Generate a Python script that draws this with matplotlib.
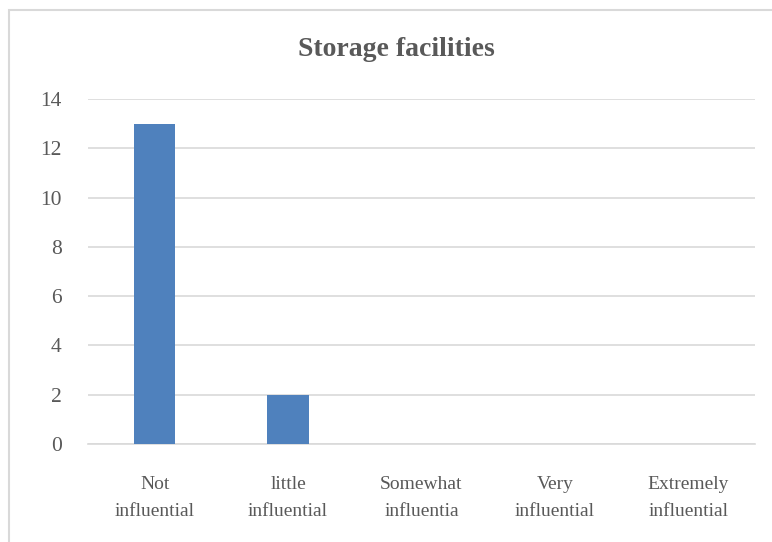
import matplotlib
matplotlib.use("Agg")
import matplotlib.pyplot as plt
from matplotlib.patches import Rectangle

categories = ["Not\ninfluential", "little\ninfluential", "Somewhat\ninfluentia", "Very\ninfluential", "Extremely\ninfluential"]
values = [13, 2, 0, 0, 0]
yticks = [0, 2, 4, 6, 8, 10, 12, 14]
title = "Storage facilities"

text_color = "#595959"
grid_color = "#D9D9D9"
bar_color = "#4F81BD"
font = "Liberation Serif"

fig = plt.figure(figsize=(7.72, 5.42), dpi=100)
fig.patch.set_facecolor("white")
fig.patches.append(Rectangle((9/772, -0.2), 1.2, 1.2 - 10/542,
                             transform=fig.transFigure, fill=False,
                             edgecolor=grid_color, linewidth=1.5))

ax = fig.add_axes([88/772, 1 - 444/542, (755 - 88)/772, (444 - 99)/542])
x = range(len(categories))
ax.bar(x, values, width=0.31, color=bar_color, zorder=3)
ax.set_xlim(-0.5, len(categories) - 0.5)
ax.set_ylim(0, 14)
ax.set_yticks(yticks)
ax.set_yticklabels([str(v) for v in yticks], fontsize=15.5, color=text_color, family=font)
ax.set_xticks(list(x))
ax.set_xticklabels(categories, fontsize=14, color=text_color, family=font, linespacing=1.75)
ax.tick_params(axis="y", length=0, pad=19)
ax.tick_params(axis="x", length=0, pad=23)
ax.yaxis.grid(True, color=grid_color, linewidth=1.2, zorder=0)
ax.set_axisbelow(True)
for s in ["top", "left", "right"]:
    ax.spines[s].set_visible(False)
ax.spines["bottom"].set_color(grid_color)
ax.spines["bottom"].set_linewidth(1.2)

fig.text(396/772, 1 - 50/542, title, ha="center", va="center", fontsize=20,
         fontweight="bold", color=text_color, family=font)

fig.savefig("out.png", dpi=100)
